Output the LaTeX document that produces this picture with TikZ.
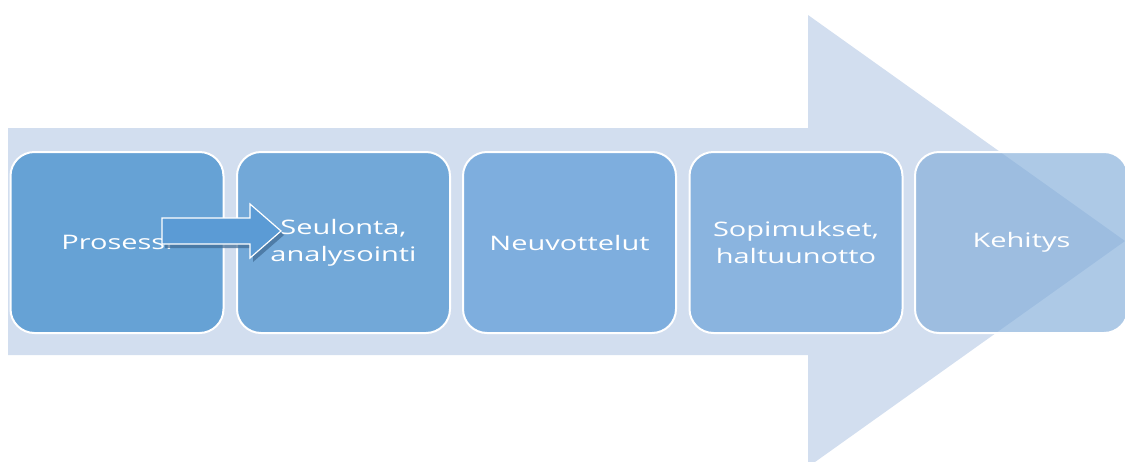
\documentclass[tikz,border=0pt]{standalone}
\usepackage{fontspec}
\newfontfamily\stagefont[FakeStretch=1.45]{Open Sans}
\definecolor{bandblue}{HTML}{D2DEEF}
\definecolor{stageA}{HTML}{66A2D5}
\definecolor{stageB}{HTML}{72A8D8}
\definecolor{stageC}{HTML}{7EAEDE}
\definecolor{stageD}{HTML}{8AB4DF}
\definecolor{stageE}{HTML}{81ACD9}
\definecolor{tinyarrow}{HTML}{5B9BD5}
\definecolor{tinyshade}{HTML}{3F6A93}
\begin{document}
\begin{tikzpicture}[x=0.5pt,y=-0.5pt,
    stage/.style={draw=white, line width=1pt, rounded corners=12pt,
        minimum width=106.5pt, minimum height=90.5pt, text=white,
        align=center, font=\stagefont\fontsize{10}{13.5}\selectfont}]
        % frame
        \useasboundingbox (0,0) rectangle (1125,461);
        \clip (0,0) rectangle (1125,461);

        % big background arrow
        \fill[bandblue] (8,128) -- (808,128) -- (808,15) -- (1125,241)
            -- (808,467) -- (808,355) -- (8,355) -- cycle;

        % stages
        \node[stage, fill=stageA] (proc) at (117,242.5) {Prosessi};
        \node[stage, fill=stageB] (scan) at (343.5,242.5) {Seulonta,\\analysointi};
        \node[stage, fill=stageC] (nego) at (569.5,242.5) {Neuvottelut};
        \node[stage, fill=stageD] (deal) at (796,242.5) {Sopimukset,\\haltuunotto};
        \node[stage, fill=stageE, fill opacity=0.65, text opacity=1] (devel) at (1021.5,242.5) {Kehitys};

        % small block arrow
        \fill[tinyshade, opacity=0.7] (165,222) -- (253,222) -- (253,209) -- (284,235)
            -- (253,262) -- (253,248) -- (165,248) -- cycle;
        \filldraw[fill=tinyarrow, draw=white, line width=0.6pt] (162,218) -- (250,218) -- (250,204)
            -- (281,231) -- (250,258) -- (250,244) -- (162,244) -- cycle;
\end{tikzpicture}
\end{document}
